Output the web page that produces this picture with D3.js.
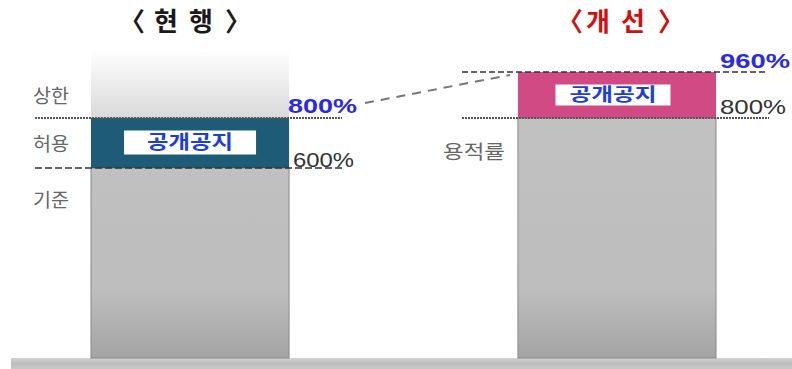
<!DOCTYPE html>
<html><head><meta charset="utf-8">
<script src="https://cdn.jsdelivr.net/npm/d3@7"></script>
<style>html,body{margin:0;padding:0;background:#fff;}svg{display:block;}</style>
</head><body>
<svg id="c" width="792" height="369"></svg>
<script>
// ---- data ----
const scenarios = ["현행", "개선"];
const titleChars = [["〈", "현", "행", "〉"], ["〈", "개", "선", "〉"]];
const baseValues = [600, 800];      // 기준 / 용적률
const topValues = [800, 960];       // 상한 (with 공개공지)
const bonusLabel = "공개공지";
const leftLabels = ["상한", "허용", "기준"];
const rightLabel = "용적률";
const valueLabels = [["800%", "600%"], ["960%", "800%"]];

const svg = d3.select("#c");
const W = 792, H = 369;
const KR = "'Noto Sans CJK KR','Noto Sans',sans-serif";
const NUM = "'Liberation Sans',Arial,sans-serif";

const x = d3.scaleBand().domain(scenarios).range([0, 807]).paddingInner(0.536).paddingOuter(0.2131);
// schematic (non-linear) vertical scale
const y = d3.scaleLinear().domain([0, 600, 800, 960]).range([358, 168, 118, 72]);

const defs = svg.append("defs");
const gGray = defs.append("linearGradient").attr("id", "gGray")
  .attr("gradientUnits", "userSpaceOnUse").attr("x1", 0).attr("x2", 0).attr("y1", 118).attr("y2", 358);
gGray.append("stop").attr("offset", "0").attr("stop-color", "#c1c1c1");
gGray.append("stop").attr("offset", "0.72").attr("stop-color", "#bdbdbd");
gGray.append("stop").attr("offset", "1").attr("stop-color", "#a4a4a4");
const gGhost = defs.append("linearGradient").attr("id", "gGhost").attr("x1", 0).attr("x2", 0).attr("y1", 0).attr("y2", 1);
gGhost.append("stop").attr("offset", "0").attr("stop-color", "#ffffff");
gGhost.append("stop").attr("offset", "1").attr("stop-color", "#d9d9d9");
const gGround = defs.append("linearGradient").attr("id", "gGround").attr("x1", 0).attr("x2", 0).attr("y1", 0).attr("y2", 1);
gGround.append("stop").attr("offset", "0").attr("stop-color", "#d2d2d2");
gGround.append("stop").attr("offset", "0.5").attr("stop-color", "#bdbdbd");
gGround.append("stop").attr("offset", "1").attr("stop-color", "#c8c8c8");

// ground
svg.append("rect").attr("x", 11).attr("y", y(0)).attr("width", W - 11).attr("height", H - y(0)).attr("fill", "url(#gGround)");

// ghost above current bar
svg.append("rect").attr("x", x(scenarios[0])).attr("y", 50).attr("width", x.bandwidth()).attr("height", y(topValues[0]) - 50)
  .attr("fill", "url(#gGhost)");

// base gray bars
svg.selectAll("rect.base").data(scenarios).join("rect").attr("class", "base")
  .attr("x", d => x(d)).attr("width", x.bandwidth())
  .attr("y", (d, i) => y(baseValues[i])).attr("height", (d, i) => y(0) - y(baseValues[i]))
  .attr("fill", "url(#gGray)").attr("stroke", "#8a8a8a").attr("stroke-width", 1);

// bonus bars
const bonusColors = ["#1e5b76", "#d14a84"];
svg.selectAll("rect.bonus").data(scenarios).join("rect").attr("class", "bonus")
  .attr("x", d => x(d)).attr("width", x.bandwidth())
  .attr("y", (d, i) => y(topValues[i])).attr("height", (d, i) => y(baseValues[i]) - y(topValues[i]))
  .attr("fill", (d, i) => bonusColors[i]);

// 공개공지 boxes
const boxes = [{w: 132, h: 24, tl: 86, fs: 19}, {w: 115, h: 21, tl: 87, fs: 18}];
scenarios.forEach((s, i) => {
  const cx = x(s) + x.bandwidth() / 2 + (i === 0 ? 0 : -4);
  const cy = (y(topValues[i]) + y(baseValues[i])) / 2 + (i === 0 ? -0.5 : 0);
  svg.append("rect").attr("x", cx - boxes[i].w / 2).attr("y", cy - boxes[i].h / 2)
    .attr("width", boxes[i].w).attr("height", boxes[i].h).attr("fill", "#fff");
  svg.append("text").attr("x", cx - boxes[i].tl / 2).attr("y", cy).attr("dy", "0.36em")
    .attr("textLength", boxes[i].tl).attr("lengthAdjust", "spacingAndGlyphs")
    .attr("font-family", KR).attr("font-weight", 700).attr("font-size", boxes[i].fs).attr("fill", "#1c3fd6").text(bonusLabel);
});

// reference lines
const lines = [
  {v: topValues[0], x1: 35, x2: 342, dash: "2,1", col: "#555", w: 2.2},
  {v: baseValues[0], x1: 35, x2: 342, dash: "7,3", col: "#333", w: 1.6},
  {v: topValues[1], x1: 462, x2: 768, dash: "6,3", col: "#333", w: 1.6},
  {v: baseValues[1], x1: 462, x2: 769, dash: "2,1", col: "#555", w: 2.2}
];
svg.selectAll("line.ref").data(lines).join("line").attr("class", "ref")
  .attr("x1", d => d.x1).attr("x2", d => d.x2).attr("y1", d => y(d.v)).attr("y2", d => y(d.v))
  .attr("stroke", d => d.col).attr("stroke-width", d => d.w).attr("stroke-dasharray", d => d.dash);

// connector
svg.append("line").attr("x1", 365).attr("y1", y(topValues[0]) - 15).attr("x2", 510).attr("y2", y(topValues[1]) + 3)
  .attr("stroke", "#777").attr("stroke-width", 2).attr("stroke-dasharray", "9,7");

// value labels
const vl = [
  {t: valueLabels[0][0], x: 288, yy: y(topValues[0]) - 5, col: "#2a2ae6", bold: true, len: 69},
  {t: valueLabels[0][1], x: 293, yy: y(baseValues[0]) - 1, col: "#333", bold: false, len: 61},
  {t: valueLabels[1][0], x: 720, yy: y(topValues[1]) - 4, col: "#2a2ae6", bold: true, len: 70},
  {t: valueLabels[1][1], x: 720, yy: y(baseValues[1]) - 4, col: "#333", bold: false, len: 66}
];
svg.selectAll("text.val").data(vl).join("text").attr("class", "val")
  .attr("x", d => d.x).attr("y", d => d.yy).attr("font-family", NUM).attr("font-size", 21)
  .attr("font-weight", d => d.bold ? 700 : 400).attr("fill", d => d.col)
  .attr("textLength", d => d.len).attr("lengthAdjust", "spacingAndGlyphs").text(d => d.t);

// side labels
const sideY = [96, 144, 200];
svg.selectAll("text.side").data(leftLabels).join("text").attr("class", "side")
  .attr("x", 33).attr("y", (d, i) => sideY[i]).attr("dy", "0.35em")
  .attr("textLength", 36).attr("lengthAdjust", "spacingAndGlyphs")
  .attr("font-family", KR).attr("font-size", 19).attr("fill", "#666").text(d => d);
svg.append("text").attr("x", 443).attr("y", 152).attr("dy", "0.35em")
  .attr("textLength", 62).attr("lengthAdjust", "spacingAndGlyphs")
  .attr("font-family", KR).attr("font-size", 19).attr("fill", "#666").text(rightLabel);

// titles (glyph-by-glyph placement to match the wide bracket spacing)
const titleCols = ["#1a1a1a", "#d01010"];
const titleGlyphX = [[119, 154, 189, 225], [557, 586, 621, 658]];
titleChars.forEach((chars, i) => {
  const t = svg.append("text").attr("y", 22).attr("dy", "0.36em")
    .attr("font-family", KR).attr("font-weight", 700).attr("font-size", 26).attr("fill", titleCols[i]);
  chars.forEach((c, j) => t.append("tspan").attr("x", titleGlyphX[i][j]).text(c));
});
</script>
</body></html>
